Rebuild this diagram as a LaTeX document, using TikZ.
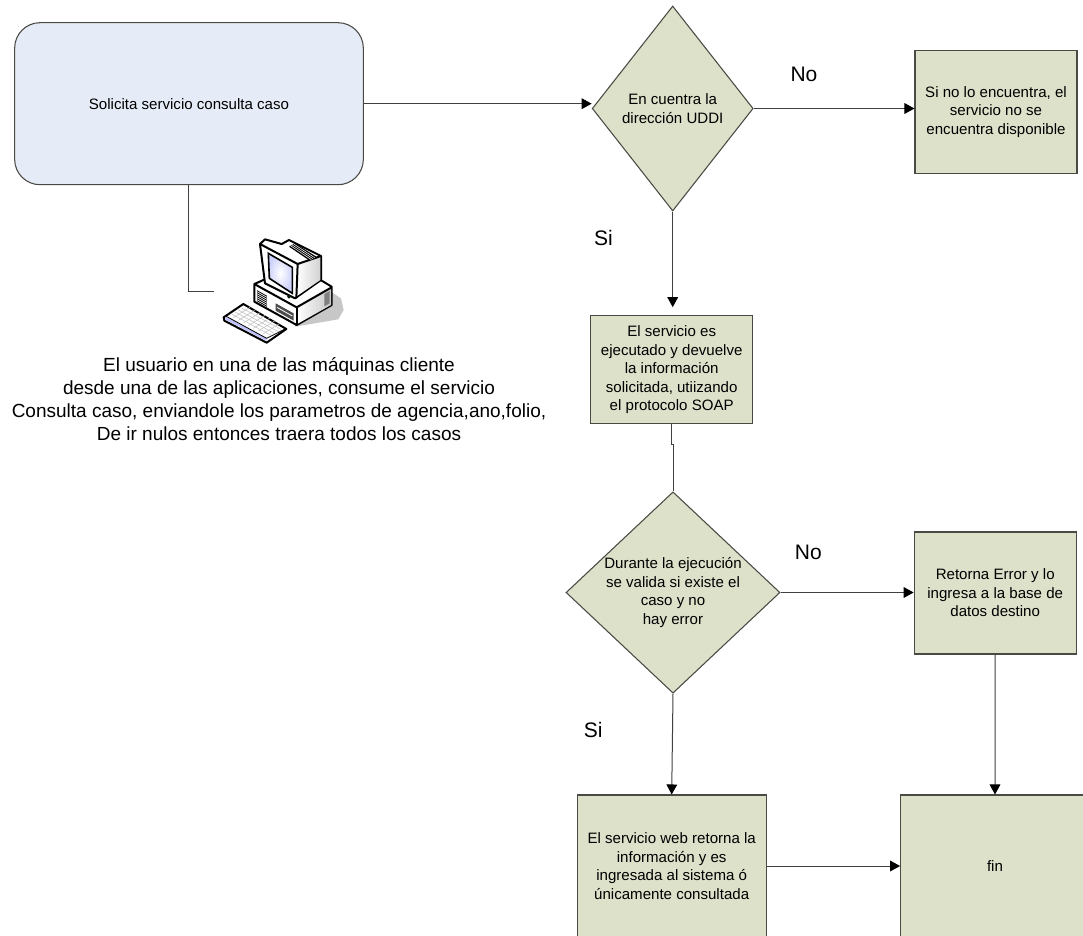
\documentclass[tikz,border=0pt]{standalone}
\usepackage{fontspec}
\setmainfont{Liberation Sans}
\usetikzlibrary{shapes.geometric,arrows.meta}
\definecolor{boxfill}{HTML}{DDE1CA}
\definecolor{softblue}{HTML}{E6ECF7}
\definecolor{edge}{HTML}{4A4A44}
\tikzset{
  x=0.75pt,y=-0.75pt,
  flowbox/.style={draw=edge,fill=boxfill,line width=0.8pt,inner sep=0pt,align=center,font=\fontsize{11.3}{13.9}\selectfont},
  decision/.style={flowbox,diamond,inner sep=-25pt},
  link/.style={draw=black!75,line width=0.75pt},
  arrowlink/.style={link,-{Triangle[length=7.5pt,width=8pt,color=black,fill=black]}},
  biglabel/.style={font=\fontsize{15.75}{18}\selectfont,inner sep=0pt},
  pc/.style={draw=black,line width=1.5pt,line join=round},
}
\begin{document}
\begin{tikzpicture}
\useasboundingbox (0,0) rectangle (1083,936);
\clip (0,0) rectangle (1083,936);
% boxes
\node[flowbox,fill=softblue,rounded corners=19pt,minimum width=261.5pt,minimum height=121.5pt] (ask) at (189,103.7) {Solicita servicio consulta caso};
\node[decision,minimum width=120.75pt,minimum height=153.75pt] (d1) at (672.7,108.5) {En cuentra la\\dirección UDDI};
\node[flowbox,minimum width=121.5pt,minimum height=92.25pt] (none) at (996,112) {Si no lo encuentra, el\\servicio no se\\encuentra disponible};
\node[flowbox,minimum width=121.5pt,minimum height=81.2pt] (run) at (671.7,369.8) {El servicio es\\ejecutado y devuelve\\la información\\solicitada, utiizando\\el protocolo SOAP};
\node[decision,minimum width=160.5pt,minimum height=151pt] (d2) at (673,592.5) {Durante la ejecución\\se valida si existe el\\caso y no\\hay error};
\node[flowbox,minimum width=121.5pt,minimum height=91.5pt] (err) at (995.2,593) {Retorna Error y lo\\ingresa a la base de\\datos destino};
\node[flowbox,minimum width=141.5pt,minimum height=106.5pt] (ok) at (671.7,866) {El servicio web retorna la\\información y es\\ingresada al sistema ó\\únicamente consultada};
\node[flowbox,minimum width=141.5pt,minimum height=106.5pt] (fin) at (995,866) {fin};
% labels
\node[biglabel] (no1) at (804,74) {No};
\node[biglabel] (si1) at (603.5,238) {Si};
\node[biglabel] (no2) at (808.3,552.5) {No};
\node[biglabel] (si2) at (593.3,730) {Si};
\node[align=center,inner sep=0pt,font=\fontsize{14.25}{17.1}\selectfont] (user) at (279,399) {El usuario en una de las máquinas cliente\\desde una de las aplicaciones, consume el servicio\\Consulta caso, enviandole los parametros de agencia,ano,folio,\\De ir nulos entonces traera todos los casos};
% free ends and connectors
\coordinate (pcend) at (214,291);
\coordinate (askdown) at (188.7,184.7);
\coordinate (runstep) at (671.7,444);
\draw[arrowlink] (ask.east) -- (ask.east -| d1.west);
\draw[link] (askdown) |- (pcend);
\draw[arrowlink] (d1.east) -- (none.west |- d1.east);
\draw[arrowlink,shorten >=6pt] (d1.south) -- (d1.south |- run.north);
\draw[link] (run.south) -- (runstep) -| (d2.north);
\draw[arrowlink] (d2.east) -- (err.west |- d2.east);
\draw[arrowlink] (d2.south) -- (ok.north);
\draw[arrowlink] (err.south) -- (fin.north);
\draw[arrowlink] (ok.east |- fin.west) -- (fin.west);
% computer
\begin{scope}[shift={(215,230)},x=0.25pt,y=-0.25pt]
\fill[black!22] (340,180) -- (378,205) -- (386,240) -- (370,268) -- (240,290) -- (240,260) -- cycle;
\filldraw[pc,fill=white] (118,162) -- (150,148) -- (300,140) -- (350,170) -- (350,225) -- (245,285) -- (118,215) -- cycle;
\fill[left color=white,right color=black!22] (245,232) -- (348,172) -- (348,225) -- (245,283) -- cycle;
\draw[pc] (118,162) -- (245,232) -- (350,172);
\draw[pc] (245,232) -- (245,285);
\fill[black!50] (328,192) -- (344,183) -- (344,220) -- (328,229) -- cycle;
\foreach \k in {0,...,5}{\draw[black,line width=0.6pt] (126,{182+\k*6}) -- (156,{199+\k*6});}
\fill[black!70] (182,220) -- (236,250) -- (236,272) -- (182,242) -- cycle;
\draw[white,line width=0.6pt] (186,232) -- (232,258);
% monitor
\filldraw[pc,fill=white] (135,42) -- (150,28) -- (200,42) -- (222,30) -- (318,78) -- (318,150) -- (240,205) -- (150,160) -- cycle;
\fill[left color=white,right color=black!18] (248,102) -- (316,80) -- (316,150) -- (246,198) -- cycle;
\draw[pc] (135,42) -- (248,102) -- (244,205);
\draw[pc] (248,102) -- (318,78);
\fill[black] (222,50) -- (240,40) -- (304,80) -- (284,92) -- cycle;
\foreach \k in {1,2,3}{\draw[white,line width=0.4pt] ({222+\k*5},{50-\k*2.5}) -- ({284+\k*5},{92-\k*3});}
\filldraw[black,line width=1.2pt,inner color=white,outer color=softblue!80!blue!70] (160,70) -- (232,112) -- (232,190) -- (163,145) -- cycle;
\filldraw[black,fill=black!50!green,line width=0.6pt] (222,200) circle[radius=4];
% keyboard
\filldraw[pc,fill=white] (26,262) -- (85,222) -- (214,297) -- (155,338) -- (28,272) -- cycle;
\fill[softblue!60!blue!55] (30,268) -- (155,333) -- (155,325) -- (32,260) -- cycle;
\draw[black,line width=0.6pt] (32,258) -- (155,325) -- (212,296);
\foreach \k in {1,...,7}{\draw[black!25,line width=0.4pt] ({40+\k*15},{255+\k*8}) -- ({90+\k*15},{224+\k*8});}
\foreach \k in {1,...,4}{\draw[black!25,line width=0.4pt] ({40+\k*10},{258-\k*6}) -- ({158+\k*10},{322-\k*6});}
\end{scope}
\end{tikzpicture}
\end{document}
